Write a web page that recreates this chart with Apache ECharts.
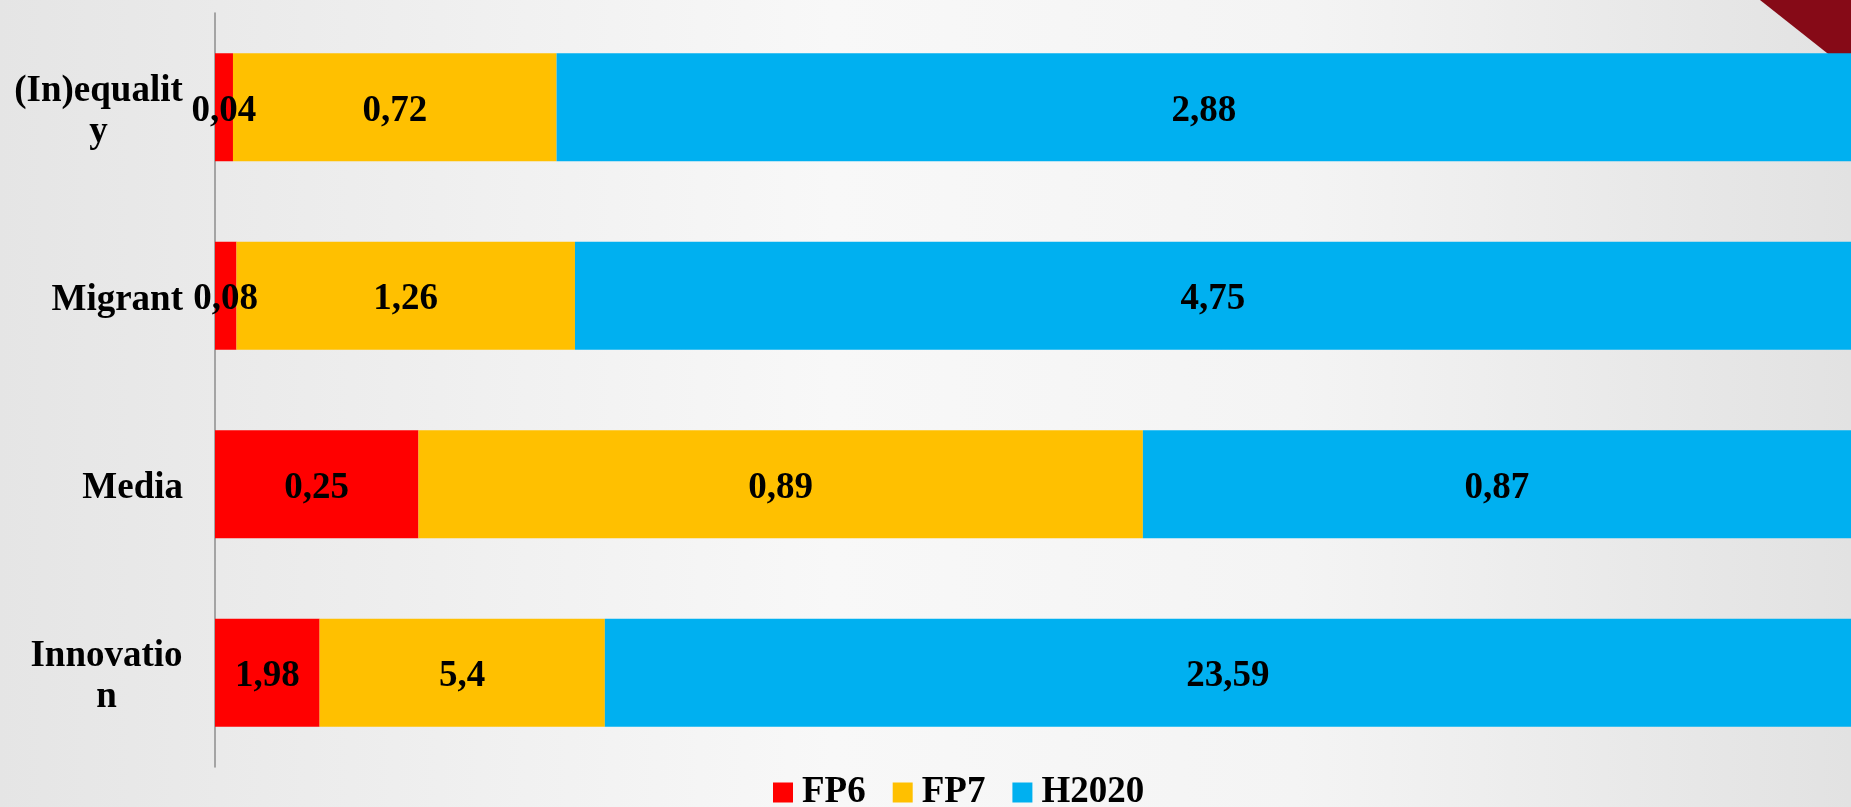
<!DOCTYPE html>
<html>
<head>
<meta charset="utf-8">
<script src="https://cdn.jsdelivr.net/npm/echarts@6/dist/echarts.min.js"></script>
<style>
html,body{margin:0;padding:0;}
#chart{width:1851px;height:807px;}
</style>
</head>
<body>
<div id="chart"></div>
<script>
const categories = ['(In)equality', 'Migrant', 'Media', 'Innovation'];
const seriesNames = ['FP6', 'FP7', 'H2020'];
const fp6 = [0.04, 0.08, 0.25, 1.98];
const fp7 = [0.72, 1.26, 0.89, 5.4];
const h2020 = [2.88, 4.75, 0.87, 23.59];

const colors = ['#FF0000', '#FFC000', '#00B0F0'];
const FONT = '"Liberation Serif", "Times New Roman", serif';
const FS = 37;

const raw = [fp6, fp7, h2020];
const totals = categories.map((c, i) => fp6[i] + fp7[i] + h2020[i]);

// wrap category labels like the original (character wrap at a fixed width)
const ctx = document.createElement('canvas').getContext('2d');
ctx.font = 'bold ' + FS + 'px ' + FONT;
const WRAP = 170;
const rich = {};
const labelText = {};
categories.forEach((c, idx) => {
  const lines = [];
  let cur = '';
  for (const ch of c) {
    if (cur && ctx.measureText(cur + ch).width > WRAP) { lines.push(cur); cur = ch; }
    else cur += ch;
  }
  lines.push(cur);
  if (lines.length > 1) {
    const w = Math.max(...lines.map(l => ctx.measureText(l).width));
    const key = 'w' + idx;
    rich[key] = { width: Math.ceil(w), align: 'center', fontSize: FS, fontWeight: 'bold', fontFamily: FONT, color: '#000', lineHeight: 41 };
    labelText[c] = lines.map(l => '{' + key + '|' + l + '}').join('\n');
  } else {
    labelText[c] = c;
  }
});

const series = seriesNames.map((name, s) => ({
  name: name,
  type: 'bar',
  stack: 'total',
  barWidth: 108,
  itemStyle: { color: colors[s] },
  label: {
    show: true,
    position: 'inside',
    offset: [0, 4],
    color: '#000',
    fontFamily: FONT,
    fontWeight: 'bold',
    fontSize: FS,
    formatter: p => String(raw[s][p.dataIndex]).replace('.', ',')
  },
  data: raw[s].map((v, i) => v / totals[i] * 100)
}));

const chart = echarts.init(document.getElementById('chart'));
chart.setOption({
  animation: false,
  backgroundColor: {
    type: 'linear', x: 0, y: 0, x2: 1, y2: 0,
    colorStops: [
      { offset: 0, color: '#e5e5e5' },
      { offset: 0.45, color: '#f8f8f8' },
      { offset: 0.7, color: '#f4f4f4' },
      { offset: 1, color: '#e2e2e2' }
    ]
  },
  graphic: [{
    type: 'polygon',
    z: -10,
    shape: { points: [[1760, 0], [1851, 0], [1851, 72]] },
    style: { fill: '#860a17' }
  }],
  grid: { left: 215, right: -9, top: 13, bottom: 40, containLabel: false },
  legend: {
    data: seriesNames,
    left: 768,
    top: 769,
    itemWidth: 20,
    itemHeight: 20,
    itemGap: 27,
    icon: 'rect',
    textStyle: { fontFamily: FONT, fontWeight: 'bold', fontSize: FS, color: '#000', padding: [0, 0, 0, 4] }
  },
  xAxis: { type: 'value', min: 0, max: 100, show: false },
  yAxis: {
    type: 'category',
    inverse: true,
    data: categories,
    axisLine: { show: true, lineStyle: { color: '#8c8c8c', width: 1.5 } },
    axisTick: { show: false },
    splitLine: { show: false },
    axisLabel: {
      margin: 32,
      padding: [9, 0, 0, 0],
      fontFamily: FONT,
      fontWeight: 'bold',
      fontSize: FS,
      color: '#000',
      lineHeight: 41,
      formatter: v => labelText[v],
      rich: rich
    }
  },
  series: series
});
</script>
</body>
</html>
